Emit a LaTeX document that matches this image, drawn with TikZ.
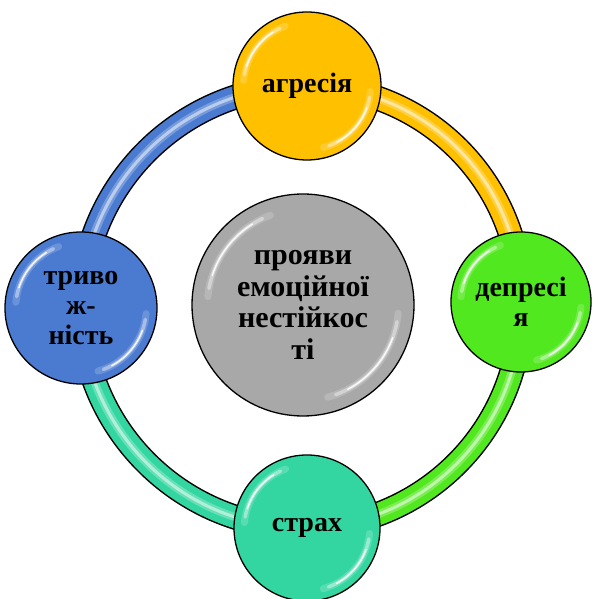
\documentclass[tikz,border=0pt]{standalone}
\usepackage{fontspec}
\setmainfont{Liberation Serif}
\usetikzlibrary{backgrounds}
\definecolor{cyel}{HTML}{FFC000}
\definecolor{cgrn}{HTML}{52E81F}
\definecolor{cteal}{HTML}{33D6A0}
\definecolor{cblue}{HTML}{4A7BD1}
\definecolor{cgray}{HTML}{A8A8A8}
\begin{document}
\begin{tikzpicture}[x=1pt,y=1pt,
  ball/.style={circle, draw=black, line width=1.3pt, inner sep=0pt,
    minimum size=#1, align=center,
    font=\bfseries\fontsize{28}{30}\selectfont},
  bigfont/.style={font=\bfseries\fontsize{30}{31.5}\selectfont},
  glint/.style={white, line cap=round}]
\useasboundingbox (0,0) rectangle (592,599);

\node[ball=148, fill=cyel] (agr) at (307,513) {агресія};
\node[ball=140, fill=cgrn] (dep) at (521,297) {депресі\\я};
\node[ball=146, fill=cteal] (str) at (307,71) {страх};
\node[ball=152, fill=cblue] (tri) at (81,291) {триво\\ж-\\ність};
\node[ball=222, fill=cgray, bigfont] (cen) at (303,294) {прояви\\емоційної\\нестійкос\\ті};

\begin{scope}[on background layer]
\foreach \a/\b/\c in {agr/dep/cyel, dep/str/cgrn, str/tri/cteal, tri/agr/cblue}{
  \draw[line width=25pt, black] (\a.center) to[bend left=45] (\b.center);
  \draw[line width=22pt, \c] (\a.center) to[bend left=45] (\b.center);
  \draw[line width=8pt, white, opacity=0.25] (\a.center) to[bend left=45] (\b.center);
  \draw[line width=3pt, white, opacity=0.5] (\a.center) to[bend left=45] (\b.center);
}
\end{scope}

\foreach \n/\r in {agr/74, dep/70, str/73, tri/76, cen/111}{
  \pgfmathsetmacro{\rr}{0.86*\r}
  \draw[glint, line width=7pt, opacity=0.18] ([shift={(\n.center)}]110:\rr) arc[start angle=110, end angle=175, radius=\rr];
  \draw[glint, line width=3.5pt, opacity=0.4] ([shift={(\n.center)}]115:\rr) arc[start angle=115, end angle=170, radius=\rr];
  \draw[glint, line width=1.4pt, opacity=0.9] ([shift={(\n.center)}]122:\rr) arc[start angle=122, end angle=162, radius=\rr];
  \draw[glint, line width=7pt, opacity=0.18] ([shift={(\n.center)}]-75:\rr) arc[start angle=-75, end angle=-5, radius=\rr];
  \draw[glint, line width=3.5pt, opacity=0.4] ([shift={(\n.center)}]-70:\rr) arc[start angle=-70, end angle=-10, radius=\rr];
  \draw[glint, line width=1.4pt, opacity=0.9] ([shift={(\n.center)}]-62:\rr) arc[start angle=-62, end angle=-20, radius=\rr];
}
\end{tikzpicture}
\end{document}
